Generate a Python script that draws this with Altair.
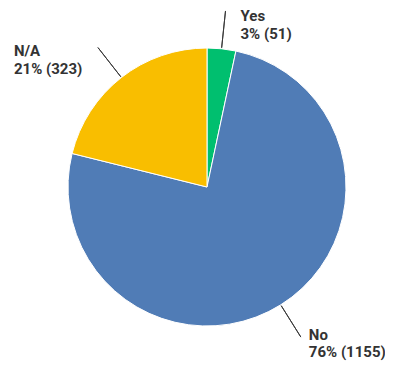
import altair as alt
import pandas as pd

categories = ["Yes", "No", "N/A"]
counts = [51, 1155, 323]
percents = ["3%", "76%", "21%"]
colors = ["#00BF6F", "#507CB6", "#F9BE00"]

df = pd.DataFrame({
    "answer": categories,
    "count": counts,
    "pct": percents,
    "order": list(range(len(categories))),
})
df["detail"] = df["pct"] + " (" + df["count"].astype(str) + ")"
total = int(sum(counts))

CX, CY = 199, 179
R = 139
LR = 177
FONT = "Roboto"
TXT = "#333333"

theta_scale = alt.Scale(domain=[0, total], nice=False, zero=True)

base = alt.Chart(df).transform_window(
    cum="sum(count)", sort=[alt.SortField("order")], frame=[None, 0]
).transform_calculate(
    start="datum.cum - datum.count",
    mid="datum.cum - datum.count / 2",
)

arcs = base.mark_arc(outerRadius=R, stroke="white", strokeWidth=1).encode(
    theta=alt.Theta("start:Q", stack=None, scale=theta_scale),
    theta2="cum:Q",
    color=alt.Color("answer:N", scale=alt.Scale(domain=categories, range=colors), legend=None),
    x=alt.value(CX),
    y=alt.value(CY),
)

leaders = base.mark_arc(innerRadius=R + 1, outerRadius=LR, stroke="#3a3a3a",
                        strokeWidth=1, fillOpacity=0).encode(
    theta=alt.Theta("mid:Q", stack=None, scale=theta_scale),
    theta2="mid:Q",
    x=alt.value(CX),
    y=alt.value(CY),
)

# label offsets (dx, dy for first line, dy for second line)
offsets = {
    "Yes": (15, 10, 28),
    "N/A": (-84, 8, 26),
    "No": (8, 3, 20),
}

layers = [arcs, leaders]
for cat, (dx, dy1, dy2) in offsets.items():
    for field, dy in (("answer", dy1), ("detail", dy2)):
        layers.append(
            base.transform_filter(alt.datum.answer == cat).mark_text(
                align="left", baseline="alphabetic", dx=dx, dy=dy,
                font=FONT, fontSize=15, fontWeight="bold", color=TXT,
            ).encode(
                theta=alt.Theta("mid:Q", stack=None, scale=theta_scale),
                radius=alt.value(LR),
                text=alt.Text(f"{field}:N"),
                x=alt.value(CX),
                y=alt.value(CY),
            )
        )

chart = alt.layer(*layers).properties(
    width=377, height=356,
    autosize=alt.AutoSizeParams(type="none"),
    padding=0,
    background="white",
).configure_view(stroke=None)

chart.save("out.html", embed_options={"renderer": "svg", "actions": False})
